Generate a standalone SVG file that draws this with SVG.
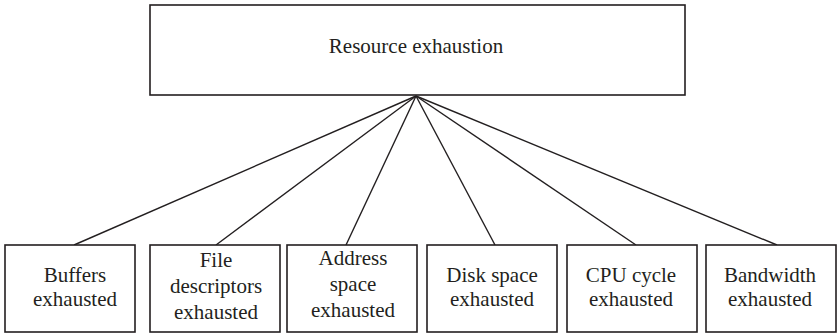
<svg xmlns="http://www.w3.org/2000/svg" width="837" height="335" viewBox="0 0 837 335">
  <style>
    .box { fill: #ffffff; stroke: #231f20; stroke-width: 1.6; }
    .edge { stroke: #231f20; stroke-width: 1.4; fill: none; }
    .label { font-size: 21px; fill: #231f20; text-anchor: middle; }
  </style>
  <rect width="837" height="335" fill="#ffffff"/>

  <!-- connectors from the root down to each cause -->
  <g id="connectors">
    <line class="edge" x1="416" y1="96" x2="74" y2="245"/>
    <line class="edge" x1="416" y1="96" x2="216" y2="245"/>
    <line class="edge" x1="416" y1="96" x2="346" y2="245"/>
    <line class="edge" x1="416" y1="96" x2="495" y2="245"/>
    <line class="edge" x1="416" y1="96" x2="636" y2="245"/>
    <line class="edge" x1="416" y1="96" x2="777" y2="245"/>
  </g>

  <g font-family="'Liberation Serif', 'DejaVu Serif', 'Times New Roman', serif">
    <g id="resource-exhaustion">
      <rect class="box" x="150" y="5" width="535" height="90"/>
      <text class="label" x="416" y="53" font-size="22">Resource exhaustion</text>
    </g>

    <g id="buffers">
      <rect class="box" x="5" y="245" width="130" height="87"/>
      <text class="label" x="75" y="282">Buffers</text>
      <text class="label" x="75" y="306">exhausted</text>
    </g>

    <g id="file-descriptors">
      <rect class="box" x="150" y="245" width="130" height="87"/>
      <text class="label" x="216" y="267">File</text>
      <text class="label" x="216" y="293">descriptors</text>
      <text class="label" x="216" y="319">exhausted</text>
    </g>

    <g id="address-space">
      <rect class="box" x="287" y="245" width="130" height="87"/>
      <text class="label" x="353" y="265">Address</text>
      <text class="label" x="353" y="291">space</text>
      <text class="label" x="353" y="317">exhausted</text>
    </g>

    <g id="disk-space">
      <rect class="box" x="427" y="245" width="130" height="87"/>
      <text class="label" x="492" y="282">Disk space</text>
      <text class="label" x="492" y="306">exhausted</text>
    </g>

    <g id="cpu-cycle">
      <rect class="box" x="567" y="245" width="130" height="87"/>
      <text class="label" x="631" y="282">CPU cycle</text>
      <text class="label" x="631" y="306">exhausted</text>
    </g>

    <g id="bandwidth">
      <rect class="box" x="706" y="245" width="130" height="87"/>
      <text class="label" x="770" y="282">Bandwidth</text>
      <text class="label" x="770" y="306">exhausted</text>
    </g>
  </g>
</svg>
